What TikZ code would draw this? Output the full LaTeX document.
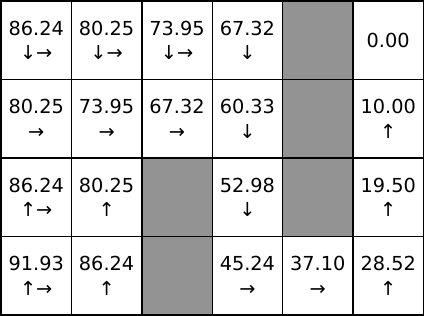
\documentclass[tikz,border=0pt]{standalone}
\usepackage{fontspec}
\setmainfont{DejaVu Sans}
\usepackage{tikz}
\usepackage{xcolor}
\usetikzlibrary{positioning}
\definecolor{wallGray}{RGB}{147,147,147}

\begin{document}
\begin{tikzpicture}[x=1pt, y=-1pt,
      cell/.style={draw=black, line width=1.4pt, minimum width=70.4pt, minimum height=78.5pt,
      inner sep=0pt, align=center, font=\fontsize{19.3}{24.5}\selectfont, text=black},
      wall/.style={cell, fill=wallGray}
    ]
    \useasboundingbox (0, 0) rectangle (426, 316);

    % row 0
    \node[cell] (v00) at (36.2, 40.25) {86.24\\↓→};
    \node[cell] (v01) at (106.6, 40.25) {80.25\\↓→};
    \node[cell] (v02) at (177.0, 40.25) {73.95\\↓→};
    \node[cell] (v03) at (247.4, 40.25) {67.32\\↓};
    \node[wall] (v04) at (317.8, 40.25) {};
    \node[cell] (v05) at (388.2, 40.25) {0.00};

    % row 1
    \node[cell] (v10) at (36.2, 118.75) {80.25\\→};
    \node[cell] (v11) at (106.6, 118.75) {73.95\\→};
    \node[cell] (v12) at (177.0, 118.75) {67.32\\→};
    \node[cell] (v13) at (247.4, 118.75) {60.33\\↓};
    \node[wall] (v14) at (317.8, 118.75) {};
    \node[cell] (v15) at (388.2, 118.75) {10.00\\↑};

    % row 2
    \node[cell] (v20) at (36.2, 197.25) {86.24\\↑→};
    \node[cell] (v21) at (106.6, 197.25) {80.25\\↑};
    \node[wall] (v22) at (177.0, 197.25) {};
    \node[cell] (v23) at (247.4, 197.25) {52.98\\↓};
    \node[wall] (v24) at (317.8, 197.25) {};
    \node[cell] (v25) at (388.2, 197.25) {19.50\\↑};

    % row 3
    \node[cell] (v30) at (36.2, 275.75) {91.93\\↑→};
    \node[cell] (v31) at (106.6, 275.75) {86.24\\↑};
    \node[wall] (v32) at (177.0, 275.75) {};
    \node[cell] (v33) at (247.4, 275.75) {45.24\\→};
    \node[cell] (v34) at (317.8, 275.75) {37.10\\→};
    \node[cell] (v35) at (388.2, 275.75) {28.52\\↑};
  \end{tikzpicture}
\end{document}
